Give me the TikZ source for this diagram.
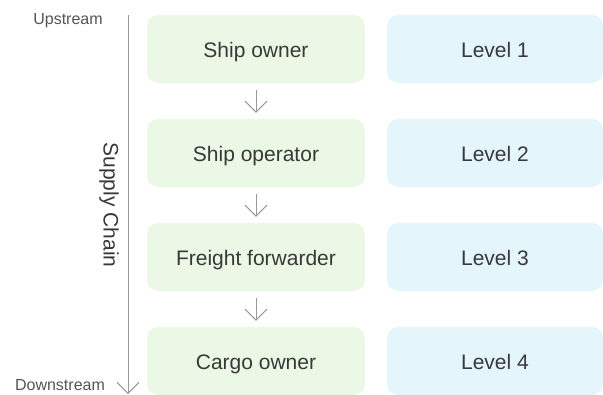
\documentclass[tikz,border=0pt]{standalone}
\usepackage{fontspec}
\setmainfont{Liberation Sans}
\usetikzlibrary{arrows.meta}
\definecolor{greenbox}{HTML}{EBF8E6}
\definecolor{bluebox}{HTML}{E5F5FC}
\definecolor{txt}{HTML}{383838}
\definecolor{lbl}{HTML}{555555}
\definecolor{ln}{HTML}{999999}
\begin{document}
\begin{tikzpicture}[x=1pt,y=-1pt,
  box/.style={rounded corners=11pt, minimum height=68pt, inner sep=0pt, text=txt, font=\fontsize{21}{24}\selectfont, text height=18pt, text depth=2pt},
  gbox/.style={box, fill=greenbox, minimum width=218pt},
  bbox/.style={box, fill=bluebox, minimum width=216pt},
  flow/.style={draw=ln, line width=1pt, -{Straight Barb[length=11pt,width=22pt,line width=1pt]}, shorten <=7pt, shorten >=6pt},
  small/.style={text=lbl, font=\fontsize{16}{19}\selectfont, inner sep=0pt}
]
\useasboundingbox (0,0) rectangle (603,394);
\node[gbox] (g1) at (256,49) {Ship owner};
\node[gbox] (g2) at (256,153) {Ship operator};
\node[gbox] (g3) at (256,257) {Freight forwarder};
\node[gbox] (g4) at (256,361) {Cargo owner};
\node[bbox] (b1) at (495,49) {Level 1};
\node[bbox] (b2) at (495,153) {Level 2};
\node[bbox] (b3) at (495,257) {Level 3};
\node[bbox] (b4) at (495,361) {Level 4};
\draw[flow] (g1) -- (g2);
\draw[flow] (g2) -- (g3);
\draw[flow] (g3) -- (g4);
\coordinate (ltop) at (128,15);
\coordinate (lbot) at (128,394);
\draw[draw=ln, line width=1pt, -{Straight Barb[length=11pt,width=22pt,line width=1pt]}] (ltop) -- (lbot);
\node[small] (up) at (68,21) {Upstream};
\node[small] (down) at (60,385) {Downstream};
\node[text=txt, rotate=-90, font=\fontsize{21}{24}\selectfont, inner sep=0pt] (sc) at (109,205) {Supply Chain};
\end{tikzpicture}
\end{document}
